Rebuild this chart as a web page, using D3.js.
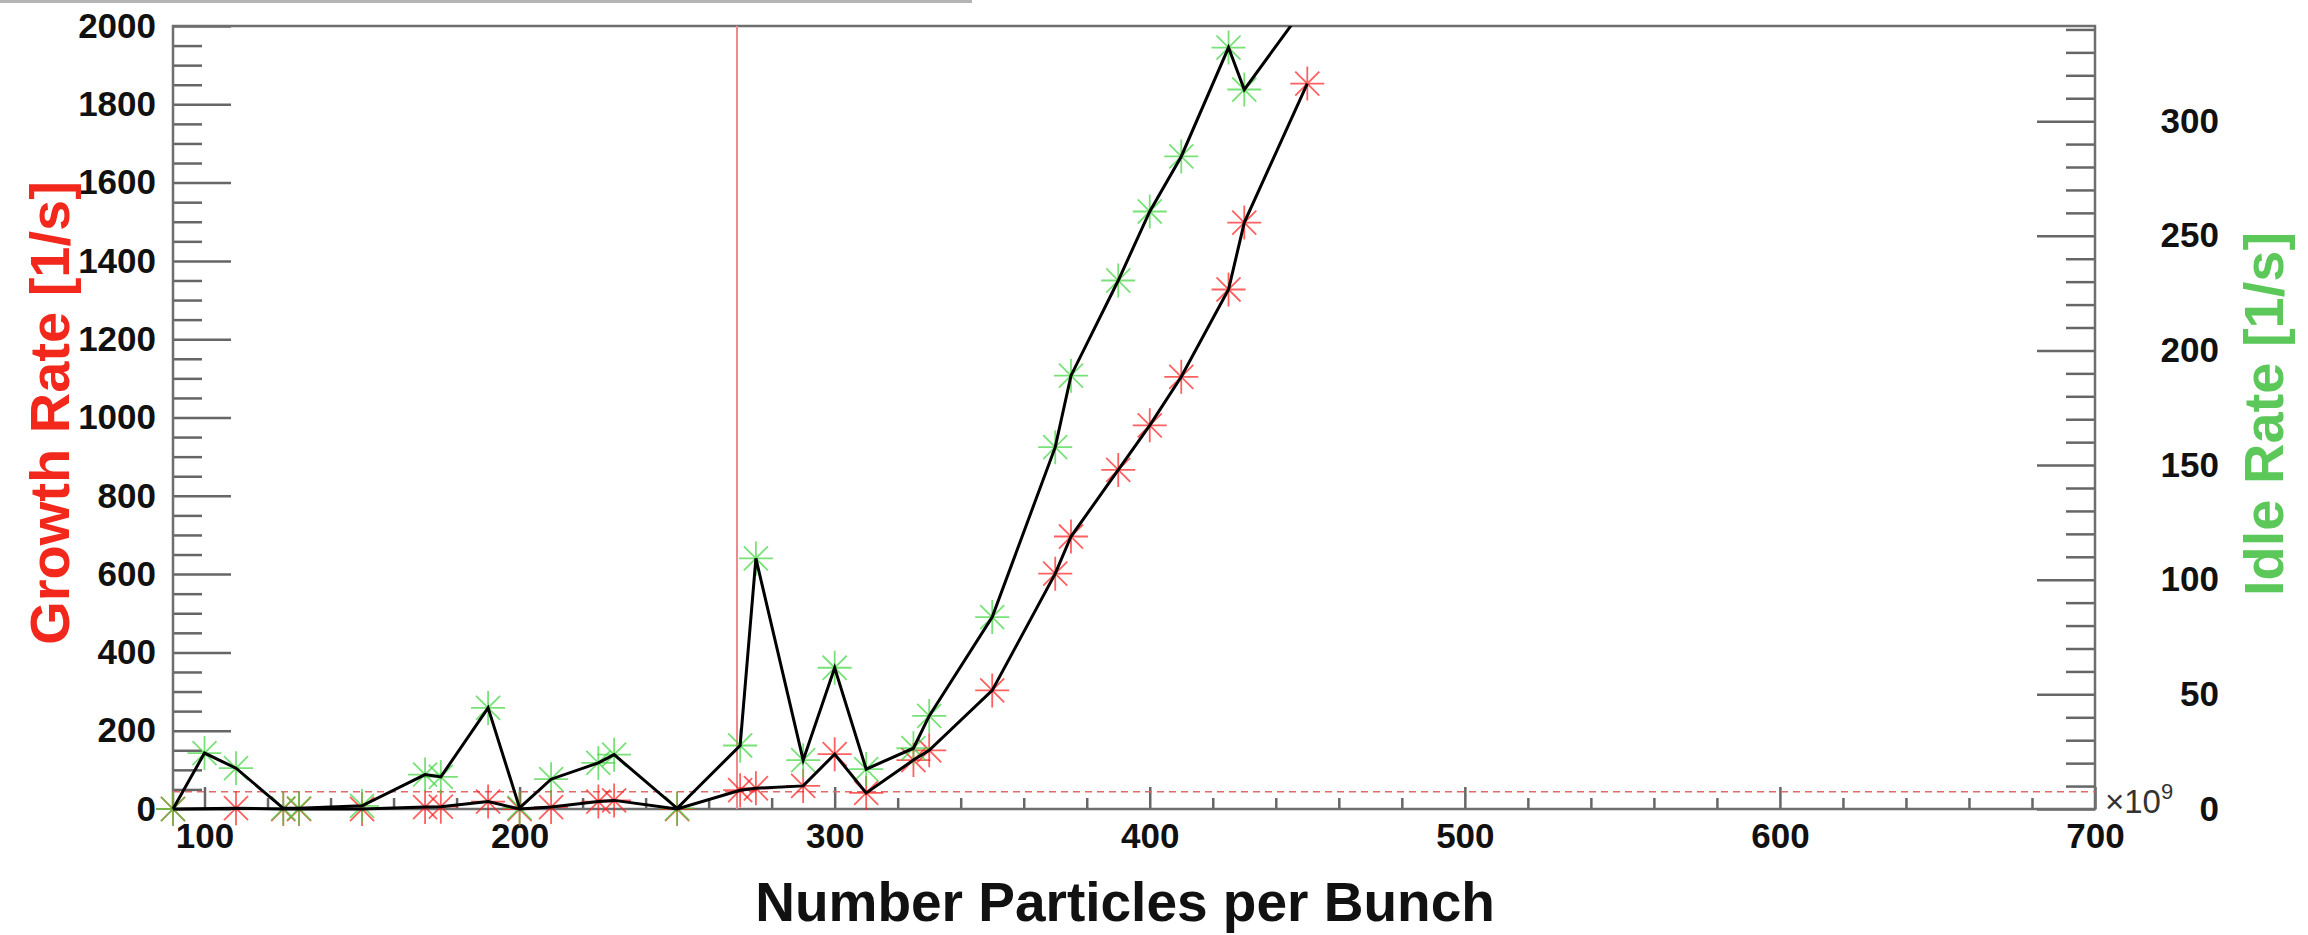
<!DOCTYPE html>
<html>
<head>
<meta charset="utf-8">
<title>Growth Rate / Idle Rate vs Number Particles per Bunch</title>
<script src="https://d3js.org/d3.v7.min.js"></script>
<style>
    body { margin: 0; background: #fff; }
    text { font-family: "Liberation Sans", Arial, Helvetica, sans-serif; }
</style>
</head>
<body>
<div id="chart"></div>
<script>
// values, x in units of 1e9 particles
var growthX = [90, 110, 125, 130, 150, 170, 175, 190, 200, 210, 225, 230, 250, 270, 275,
               290, 300, 310, 325, 330, 350, 370, 375, 390, 400, 410, 425, 430, 450];
var growthRate = [0, 2, 0, 0, 0, 5, 6, 19, 0, 5, 19, 22, 0, 48, 53,
                  59, 140, 41, 125, 150, 303, 601, 696, 866, 980, 1104, 1327, 1498, 1853];

var idleX = [90, 100, 110, 125, 130, 150, 170, 175, 190, 200, 210, 225, 230, 250, 270, 275,
             290, 300, 310, 325, 330, 350, 370, 375, 390, 400, 410, 425, 430, 450];
var idleRate = [0, 24.4, 17.8, 0.3, 0.3, 1.4, 15.0, 14.0, 44.1, 0.5, 13.0, 20.1, 23.7, 0.3, 27.7, 109.3,
                21.3, 61.6, 17.4, 26.5, 40.6, 83.7, 157.8, 189.0, 230.5, 260.6, 284.6, 332.1, 313.8, 351.4];

var xTicks = [100, 200, 300, 400, 500, 600, 700];
var leftTicks = [0, 200, 400, 600, 800, 1000, 1200, 1400, 1600, 1800, 2000];
var rightTicks = [0, 50, 100, 150, 200, 250, 300];

var thresholdX = 269;     // red vertical line
var thresholdRate = 44;   // red dashed horizontal line

var margin = { top: 26, right: 213, bottom: 126, left: 173 },
    width = 2308 - margin.left - margin.right,
    height = 935 - margin.top - margin.bottom;

var root = d3.select("#chart")
    .append("svg")
    .attr("width", 2308)
    .attr("height", 935);

// thin grey strip along the top edge of the picture
root.append("rect")
    .attr("x", 0).attr("y", 0)
    .attr("width", 972).attr("height", 3)
    .style("fill", "#b4b4b4");

var svg = root.append("g")
    .attr("transform", "translate(" + margin.left + "," + margin.top + ")");

var x = d3.scaleLinear().domain([90, 700]).range([0, width]);
var y = d3.scaleLinear().domain([0, 2000]).range([height, 0]);
var yR = d3.scaleLinear().domain([0, 341.5]).range([height, 0]);

var tickColor = "#666";

function styleAxis(g) {
    g.select(".domain").remove();
    g.selectAll(".tick line").style("stroke", tickColor).style("stroke-width", 2.5);
    g.selectAll(".tick text")
        .style("font-family", "'Liberation Sans', Arial, sans-serif")
        .style("font-weight", "bold")
        .style("font-size", "35px")
        .style("fill", "#111");
}

// minor ticks
var minorX = d3.range(100, 700, 20).filter(function (d) { return d % 100 !== 0; });
var minorL = d3.range(50, 2000, 50).filter(function (d) { return d % 200 !== 0; });
var minorR = d3.range(10, 341, 10).filter(function (d) { return d % 50 !== 0; });

svg.append("g")
    .attr("transform", "translate(0," + height + ")")
    .call(d3.axisBottom(x).tickValues(minorX).tickSize(-11).tickFormat(""))
    .call(styleAxis);
svg.append("g")
    .call(d3.axisLeft(y).tickValues(minorL).tickSize(-29).tickFormat(""))
    .call(styleAxis);
svg.append("g")
    .attr("transform", "translate(" + width + ",0)")
    .call(d3.axisRight(yR).tickValues(minorR).tickSize(-29).tickFormat(""))
    .call(styleAxis);

// major ticks + labels
svg.append("g")
    .attr("transform", "translate(0," + height + ")")
    .call(d3.axisBottom(x).tickValues(xTicks).tickSize(-22).tickPadding(14).tickFormat(d3.format("d")))
    .call(styleAxis);
svg.append("g")
    .call(d3.axisLeft(y).tickValues(leftTicks).tickSize(-58).tickPadding(17).tickFormat(d3.format("d")))
    .call(styleAxis);
svg.append("g")
    .attr("transform", "translate(" + width + ",0)")
    .call(d3.axisRight(yR).tickValues(rightTicks).tickSize(-58).tickPadding(124).tickFormat(d3.format("d")))
    .call(styleAxis)
    .selectAll(".tick text").attr("text-anchor", "end");

// frame
svg.append("rect")
    .attr("width", width)
    .attr("height", height)
    .style("fill", "none")
    .style("stroke", "#6e6e6e")
    .style("stroke-width", 2.5);

// x10^9 exponent
var expo = svg.append("text")
    .attr("x", width + 10)
    .attr("y", height + 4)
    .style("font-size", "33px")
    .style("fill", "#333")
    .text("\u00d710");
expo.append("tspan")
    .attr("dy", -14)
    .style("font-size", "22px")
    .text("9");

// clip only at the top (markers may hang over the lower and left frame)
svg.append("clipPath").attr("id", "plotClip")
    .append("rect")
    .attr("x", -40).attr("y", 0)
    .attr("width", width + 40).attr("height", height + 40);
var plot = svg.append("g").attr("clip-path", "url(#plotClip)");

// threshold lines
plot.append("line")
    .attr("x1", 0).attr("x2", width)
    .attr("y1", y(thresholdRate)).attr("y2", y(thresholdRate))
    .style("stroke", "#e06a6a")
    .style("stroke-width", 1.6)
    .style("stroke-dasharray", "7,5");
plot.append("line")
    .attr("x1", x(thresholdX)).attr("x2", x(thresholdX))
    .attr("y1", 0).attr("y2", height)
    .style("stroke", "#f08a8a")
    .style("stroke-width", 2);

var growth = growthX.map(function (d, i) { return [x(d), y(growthRate[i])]; });
var idle = idleX.map(function (d, i) { return [x(d), yR(idleRate[i])]; });

// asterisk marker (ROOT style 3)
function star(r) {
    var d = r * 0.7071;
    return "M" + (-r) + ",0L" + r + ",0M0," + (-r) + "L0," + r +
        "M" + (-d) + "," + (-d) + "L" + d + "," + d +
        "M" + (-d) + "," + d + "L" + d + "," + (-d);
}

function markers(points, color) {
    plot.append("g")
        .selectAll("path")
        .data(points)
        .enter()
        .append("path")
        .attr("transform", function (d) { return "translate(" + d[0] + "," + d[1] + ")"; })
        .attr("d", star(17))
        .style("fill", "none")
        .style("stroke", color)
        .style("stroke-width", 1.8)
        .style("opacity", 0.7);
}

markers(growth, "#ff1c1c");
markers(idle, "#3fd43f");

var line = d3.line();
plot.append("path")
    .attr("d", line(growth))
    .style("fill", "none")
    .style("stroke", "#000")
    .style("stroke-width", 3);
plot.append("path")
    .attr("d", line(idle))
    .style("fill", "none")
    .style("stroke", "#000")
    .style("stroke-width", 3);

// axis titles
svg.append("text")
    .attr("transform", "translate(" + (49 - margin.left) + "," + (413 - margin.top) + ") rotate(-90)")
    .attr("text-anchor", "middle")
    .attr("dy", "0.35em")
    .style("font-size", "56px")
    .style("font-weight", "bold")
    .style("fill", "#f2281c")
    .text("Growth Rate [1/s]");

svg.append("text")
    .attr("transform", "translate(" + (2263 - margin.left) + "," + (414 - margin.top) + ") rotate(-90)")
    .attr("text-anchor", "middle")
    .attr("dy", "0.35em")
    .style("font-size", "56px")
    .style("font-weight", "bold")
    .style("fill", "#5cc85a")
    .text("Idle Rate [1/s]");

svg.append("text")
    .attr("x", 1125 - margin.left)
    .attr("y", 921 - margin.top)
    .attr("text-anchor", "middle")
    .style("font-size", "55px")
    .style("font-weight", "bold")
    .style("fill", "#111")
    .text("Number Particles per Bunch");
</script>
</body>
</html>
